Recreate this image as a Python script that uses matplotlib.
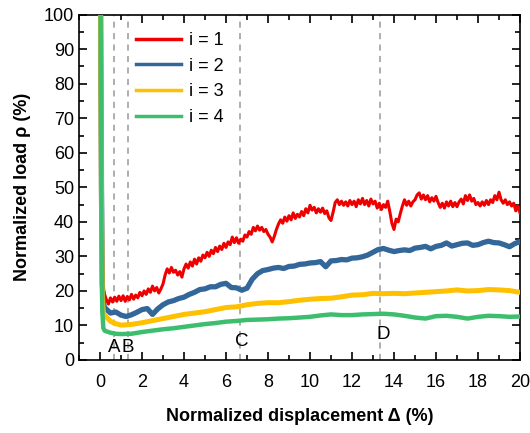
import numpy as np
import matplotlib
matplotlib.use("Agg")
import matplotlib.pyplot as plt
from matplotlib.ticker import MultipleLocator

plt.rcParams['font.family'] = ['Liberation Sans', 'DejaVu Sans']

# initial load drop (shared x for the steep start)
drop_x = [0.03, 0.07, 0.11, 0.16, 0.22]
red_drop = [100, 55, 28, 20.5, 19.0]
blue_drop = [100, 50, 22, 16.5, 15.2]
yellow_drop = [100, 45, 18, 13.6, 12.8]
green_drop = [100, 40, 14, 9.2, 8.5]

# i = 1, sampled every 0.1 from 0.3 to 20.0
red_x = np.round(np.arange(0.3, 20.001, 0.1), 2)
red_y = [
    17.5, 16.2, 18.0, 16.8, 18.2, 17.0, 18.5,
    17.2, 18.6, 17.0, 18.4, 17.4, 19.0, 17.6, 18.8, 18.0, 19.6,
    18.6, 20.0, 19.0, 20.6, 19.6, 21.4, 20.0, 21.0, 19.4, 20.6,
    22.0, 24.6, 26.4, 25.2, 26.8, 25.4, 26.0, 24.6, 25.6, 24.0,
    26.4, 27.8, 26.6, 28.4, 27.2, 29.2, 27.8, 29.6, 28.6, 30.4,
    29.6, 31.2, 30.0, 31.8, 30.8, 32.6, 31.4, 33.0, 32.0, 33.8,
    32.6, 34.2, 33.4, 35.6, 34.0, 35.4, 33.8, 35.0, 34.4, 36.2,
    35.6, 37.2, 36.4, 38.4, 37.4, 38.8, 37.6, 38.4, 37.2, 37.8,
    36.4, 35.6, 34.2, 35.8, 37.8, 39.4, 40.6, 39.6, 41.4, 40.2,
    41.8, 40.6, 42.6, 41.0, 42.2, 41.4, 43.0, 41.8, 43.8, 42.6,
    44.8, 43.4, 44.2, 42.6, 43.8, 42.8, 44.0, 42.4, 43.2, 41.2,
    40.4, 42.8, 45.6, 46.4, 45.0, 46.0, 44.8, 45.8, 44.6, 46.2,
    45.0, 46.0, 44.4, 46.4, 45.2, 46.8, 45.0, 46.2, 44.6, 46.6,
    45.2, 46.0, 44.0, 45.4, 43.6, 45.0, 44.2, 46.0, 43.0, 39.6,
    37.8, 40.8, 40.0, 42.4, 44.6, 46.4, 44.8, 46.0, 44.6, 45.8,
    46.4, 47.8, 48.4, 46.6, 47.8, 46.4, 47.6, 45.8, 47.0, 46.0,
    47.4, 45.6, 44.2, 45.4, 44.0, 45.8, 44.6, 46.0, 44.4, 45.6,
    44.4, 45.8, 46.6, 45.2, 47.6, 46.2, 47.8, 46.0, 46.8, 45.0,
    45.6, 44.6, 45.8, 44.8, 46.2, 45.0, 46.4, 45.6, 47.6, 46.4,
    48.6, 46.4, 45.4, 46.4, 45.0, 45.8, 44.6, 45.4, 43.2, 44.6,
    42.6,
]

# i = 2, every 0.25 from 0.25 to 20
blue_x = np.round(np.arange(0.25, 20.001, 0.25), 2)
blue_y = [
    15.0, 13.6, 13.9, 13.0, 12.6, 13.1, 13.8, 14.6, 14.9, 13.2,
    14.8, 16.0, 16.8, 17.2, 17.8, 18.2, 19.0, 19.6, 20.4, 20.6,
    21.2, 21.2, 21.9, 22.2, 21.0, 20.9, 20.2, 20.8, 23.4, 25.0,
    25.9, 26.2, 26.6, 26.8, 26.5, 27.1, 27.2, 27.7, 27.8, 28.1,
    28.2, 28.5, 27.0, 28.7, 28.8, 29.1, 29.0, 29.5, 29.6, 29.9,
    30.4, 31.2, 32.0, 32.3, 31.8, 31.4, 31.7, 31.9, 31.7, 32.4,
    32.6, 32.9, 32.2, 32.9, 33.2, 33.9, 33.0, 33.4, 33.8, 33.9,
    33.2, 33.4, 34.0, 34.4, 34.0, 33.9, 33.4, 32.8, 33.7, 34.3,
]

# i = 3, every 0.5
yellow_x = [0.25, 0.5, 0.75] + list(np.arange(1.0, 20.001, 0.5))
yellow_y = [
    12.8, 11.2, 10.5, 10.1, 10.3, 10.8, 11.4, 12.0, 12.6, 13.2,
    13.6, 14.0, 14.6, 15.2, 15.4, 16.0, 16.4, 16.6, 16.6, 16.9,
    17.3, 17.6, 17.8, 17.9, 18.3, 18.8, 18.9, 19.3, 19.2, 19.3,
    19.2, 19.4, 19.6, 19.8, 20.0, 20.3, 20.0, 20.1, 20.4, 20.3,
    20.1, 19.6,
]

# i = 4, every 0.5
green_x = [0.25, 0.5, 0.75] + list(np.arange(1.0, 20.001, 0.5))
green_y = [
    8.4, 7.9, 7.6, 7.5, 7.6, 8.1, 8.5, 8.9, 9.2, 9.6,
    10.0, 10.4, 10.7, 11.1, 11.3, 11.6, 11.7, 11.8, 12.0, 12.1,
    12.3, 12.5, 12.9, 13.2, 13.0, 13.0, 13.2, 13.3, 13.4, 13.2,
    12.8, 12.3, 12.0, 12.7, 12.8, 12.5, 12.0, 12.5, 12.8, 12.7,
    12.5, 12.6,
]

marks = ['A', 'B', 'C', 'D']
mark_x = [0.67, 1.33, 6.67, 13.33]
mark_label_y = [3.5, 3.5, 5.3, 7.5]
mark_dx = [0.0, 0.0, 0.1, 0.15]

series = [
    ('i = 1', '#EE0000', red_x, red_y, red_drop, 2.2),
    ('i = 2', '#336699', blue_x, blue_y, blue_drop, 3.8),
    ('i = 3', '#FFC000', yellow_x, yellow_y, yellow_drop, 3.6),
    ('i = 4', '#3DBE6E', green_x, green_y, green_drop, 3.2),
]

fig = plt.figure(figsize=(5.30, 4.33), dpi=100)
ax = fig.add_axes([79 / 530, 1 - 360 / 433, 441 / 530, 345.3 / 433])

for xm in mark_x:
    ax.axvline(xm, color='#999999', lw=1.1, ls=(0, (4, 3.5)), zorder=1)

for label, color, xs, ys, drop, lw in series:
    x = list(drop_x) + list(xs)
    y = list(drop) + list(ys)
    ax.plot(x, y, color=color, lw=lw, label=label, zorder=3)

for m, xm, ym, dx in zip(marks, mark_x, mark_label_y, mark_dx):
    ax.text(xm + dx, ym, m, fontsize=13.5, ha='center', va='center', zorder=4)

ax.set_xlim(-1, 20)
ax.set_ylim(0, 100)
ax.xaxis.set_major_locator(MultipleLocator(2))
ax.xaxis.set_minor_locator(MultipleLocator(1))
ax.yaxis.set_major_locator(MultipleLocator(10))
ax.yaxis.set_minor_locator(MultipleLocator(5))
ax.tick_params(which='both', direction='in', top=True, right=True, width=1.2, labelsize=13)
ax.tick_params(which='major', length=6)
ax.tick_params(which='minor', length=3.5)
ax.tick_params(axis='x', pad=10)
for sp in ax.spines.values():
    sp.set_linewidth(1.2)

ax.set_xlabel('Normalized displacement Δ (%)', fontsize=13, fontweight='bold', labelpad=12)
ax.set_ylabel('Normalized load ρ (%)', fontsize=13, fontweight='bold', labelpad=9)

leg = ax.legend(loc='upper left', bbox_to_anchor=(0.093, 0.997), frameon=False,
                fontsize=13, handlelength=2.5, labelspacing=0.48, handletextpad=0.4)
for h in leg.get_lines():
    h.set_linewidth(2.5)

fig.savefig('out.png', dpi=100)
